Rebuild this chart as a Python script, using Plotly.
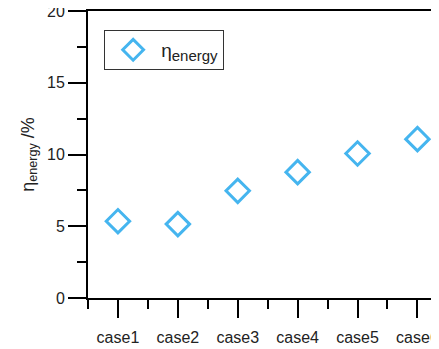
import plotly.graph_objects as go

categories = ["case1", "case2", "case3", "case4", "case5", "case6"]
eta_energy = [5.35, 5.15, 7.47, 8.77, 10.07, 11.07]
xpos = [1, 2, 3, 4, 5, 6]

fig = go.Figure()
fig.add_trace(go.Scatter(
    x=xpos, y=eta_energy, mode="markers",
    name="η<sub><span style='font-size:15px'>energy</span></sub>",
    marker=dict(symbol="diamond-open", size=18, color="#45B5EF",
                line=dict(width=3, color="#45B5EF")),
))
# empty helper trace so the label axis is drawn
fig.add_trace(go.Scatter(x=[], y=[], xaxis="x2", showlegend=False, hoverinfo="skip"))

FAM = "Liberation Sans, Arial, sans-serif"
axis_font = dict(family=FAM, size=16, color="#222")
XRANGE = [0.5, 6.36]

# the page body adds an 8px offset; the figure is sized to sit inside the window
fig.update_layout(
    width=431, height=341,
    margin=dict(l=80, r=0, t=3, b=51, autoexpand=False),
    paper_bgcolor="white", plot_bgcolor="white",
    font=axis_font,
    showlegend=True,
    legend=dict(x=0.046, y=0.934, xanchor="left", yanchor="top",
                bordercolor="#333", borderwidth=1, bgcolor="white",
                itemwidth=46,
                font=dict(family=FAM, size=19, color="#222")),
    xaxis=dict(
        range=XRANGE, tickmode="array", tickvals=xpos, ticktext=categories,
        automargin=False, showticklabels=False,
        showgrid=False, zeroline=False, showline=True, linecolor="black", linewidth=2,
        mirror=True, ticks="outside", ticklen=18, tickwidth=2, tickcolor="black",
        minor=dict(tickvals=[0.5, 1.5, 2.5, 3.5, 4.5, 5.5], ticks="outside",
                   ticklen=9, tickwidth=2, tickcolor="black", showgrid=False),
    ),
    xaxis2=dict(
        overlaying="x", anchor="y", side="bottom",
        range=XRANGE, tickmode="array", tickvals=xpos, ticktext=categories,
        automargin=False, showgrid=False, zeroline=False, showline=False,
        ticks="outside", ticklen=25, tickwidth=1, tickcolor="rgba(0,0,0,0)",
        tickfont=axis_font, ticklabeloverflow="allow",
    ),
    yaxis=dict(
        range=[0, 20], dtick=5, tick0=0, automargin=False,
        showgrid=False, zeroline=False, showline=True, linecolor="black", linewidth=2,
        ticks="outside", ticklen=18, tickwidth=2, tickcolor="black",
        minor=dict(dtick=2.5, ticks="outside", ticklen=9, tickwidth=2,
                   tickcolor="black", showgrid=False),
        tickfont=axis_font, ticklabeloverflow="allow",
        title=dict(text="η<sub>energy</sub> /%", font=dict(family=FAM, size=18, color="#222"), standoff=8),
    ),
)

fig.write_html("out.html", config={"displayModeBar": False})
